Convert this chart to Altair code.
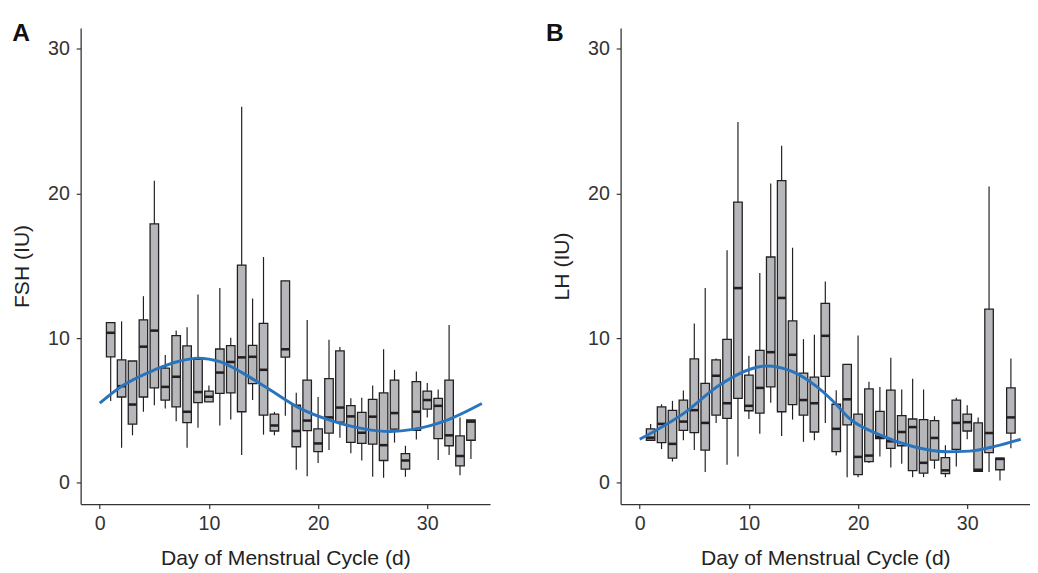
import altair as alt
import pandas as pd

days = list(range(1, 35))

# Panel A: FSH
fsh_lo = [5.66, 2.42, 3.28, 4.91, 5.36, 5.14, 4.26, 2.42, 3.8, 5.59, 3.96, 4.37, 1.92, 5.72, 3.33, 3.28, 4.64, 0.9, 0.45, 1.36, 2.26, 3.12, 2.04, 1.54, 0.41, 0.34, 2.78, 0.41, 2.99, 4.52, 1.58, 1.92, 0.52, 1.65]
fsh_q1 = [8.71, 5.93, 4.05, 5.93, 6.56, 5.72, 5.25, 4.16, 5.54, 5.59, 6.18, 6.22, 4.91, 6.86, 4.68, 3.58, 8.69, 2.49, 3.6, 2.15, 3.44, 4.19, 2.8, 2.72, 2.67, 1.54, 3.71, 0.95, 3.62, 5.09, 3.05, 2.56, 1.17, 2.94]
fsh_med = [10.37, 6.68, 5.41, 9.41, 10.52, 6.63, 7.33, 4.91, 6.27, 5.95, 7.62, 8.35, 8.67, 8.71, 7.81, 3.96, 9.23, 3.58, 4.3, 2.72, 4.52, 5.2, 4.59, 3.46, 4.57, 2.6, 4.82, 1.54, 4.91, 5.72, 5.32, 3.28, 1.85, 4.23]
fsh_q3 = [11.07, 8.49, 8.42, 11.27, 17.9, 7.92, 10.18, 9.46, 8.53, 6.34, 9.25, 9.48, 15.05, 9.5, 11.02, 4.75, 13.96, 5.36, 7.1, 3.73, 7.2, 9.12, 5.34, 4.87, 5.77, 6.22, 7.1, 2.01, 6.99, 6.34, 5.84, 7.1, 3.24, 4.34]
fsh_hi = [11.07, 11.16, 8.42, 12.9, 20.89, 8.83, 10.52, 10.75, 13.01, 6.72, 13.46, 10.03, 26.0, 12.74, 15.61, 4.9, 13.96, 6.22, 11.25, 5.93, 9.89, 9.39, 5.84, 5.88, 6.72, 9.23, 7.81, 2.56, 7.69, 6.9, 6.45, 10.91, 4.52, 4.34]

fsh_curve_day = [0, 2, 5, 7.1, 9, 11, 13.1, 15.2, 18.2, 21.2, 24.2, 26.6, 28.7, 31.7, 35]
fsh_curve_val = [5.5, 6.67, 7.8, 8.37, 8.62, 8.37, 7.58, 6.62, 5.2, 4.3, 3.73, 3.55, 3.69, 4.3, 5.48]

# Panel B: LH
lh_lo = [2.94, 2.33, 1.47, 2.94, 2.26, 0.75, 4.14, 1.24, 1.81, 4.41, 3.39, 5.54, 3.24, 4.37, 2.83, 2.94, 4.14, 1.88, 0.39, 0.39, 1.36, 1.81, 1.06, 1.31, 0.39, 0.39, 0.97, 0.39, 1.13, 3.01, 0.75, 0.75, 0.16, 2.38]
lh_q1 = [2.94, 2.78, 1.7, 3.62, 3.46, 2.26, 4.68, 4.46, 5.84, 4.98, 4.82, 6.63, 4.91, 5.41, 4.68, 3.51, 7.35, 2.15, 4.0, 0.57, 1.47, 3.05, 2.38, 2.56, 0.84, 0.66, 1.56, 0.63, 2.31, 3.58, 0.79, 2.08, 0.9, 3.44]
lh_med = [3.12, 4.07, 2.69, 4.23, 5.02, 4.14, 7.4, 5.5, 13.46, 5.32, 6.56, 9.03, 12.78, 8.85, 5.72, 5.5, 10.16, 3.73, 5.77, 1.79, 1.88, 3.17, 2.87, 3.51, 3.85, 1.38, 3.1, 0.86, 4.14, 4.19, 0.9, 3.44, 1.65, 4.52]
lh_q3 = [3.73, 5.25, 5.0, 5.72, 8.57, 6.88, 8.49, 9.91, 19.4, 7.45, 9.16, 15.61, 20.89, 11.2, 7.58, 7.31, 12.4, 5.43, 8.19, 4.75, 6.49, 4.93, 6.4, 4.64, 4.41, 4.37, 4.3, 1.74, 5.72, 4.75, 4.14, 12.0, 1.7, 6.56]
lh_hi = [4.07, 5.43, 5.66, 6.38, 11.02, 13.46, 8.6, 16.07, 24.94, 8.78, 14.51, 20.7, 23.3, 16.25, 9.93, 10.23, 13.92, 6.4, 8.19, 10.18, 6.99, 6.63, 8.64, 6.45, 7.2, 6.45, 4.6, 2.6, 5.88, 5.36, 4.52, 20.48, 1.7, 8.6]

lh_curve_day = [0, 4.16, 7.15, 10.1, 11.6, 14.0, 16.1, 17.9, 19.1, 22.1, 25.1, 28.1, 30.2, 32.6, 34.9]
lh_curve_val = [3.01, 4.87, 6.67, 7.85, 8.08, 7.69, 6.72, 5.5, 4.52, 3.28, 2.49, 2.15, 2.19, 2.53, 3.01]

x_ticks = [0, 10, 20, 30]
y_ticks = [0, 10, 20, 30]

DARK = "#231f20"
BOX_FILL = "#b6b7ba"
BLUE = "#2a74bd"
HALF = 0.39
FONT = "Liberation Sans"

xscale = alt.Scale(domain=[-1.75, 35.75], nice=False, zero=False)
yscale = alt.Scale(domain=[-1.47, 31.45], nice=False, zero=False)


def panel(lo, q1, med, q3, hi, cday, cval, ytitle, letter, lab_dx):
    df = pd.DataFrame({"day": days, "lo": lo, "q1": q1, "med": med, "q3": q3, "hi": hi})
    cdf = pd.DataFrame({"day": cday, "val": cval})
    base = alt.Chart(df).transform_calculate(
        xl=f"datum.day - {HALF}", xr=f"datum.day + {HALF}"
    )
    xax = alt.Axis(values=x_ticks, title="Day of Menstrual Cycle (d)", grid=False)
    yax = alt.Axis(values=y_ticks, title=ytitle, grid=False)
    whisk = base.mark_rule(color=DARK, strokeWidth=1.2).encode(
        x=alt.X("day:Q", scale=xscale, axis=xax),
        y=alt.Y("lo:Q", scale=yscale, axis=yax),
        y2="hi:Q",
    )
    box = base.mark_rect(fill=BOX_FILL, stroke=DARK, strokeWidth=1.3).encode(
        x="xl:Q", x2="xr:Q", y="q1:Q", y2="q3:Q"
    )
    medl = base.mark_rule(color=DARK, strokeWidth=2.6).encode(
        x="xl:Q", x2="xr:Q", y="med:Q"
    )
    curve = alt.Chart(cdf).mark_line(color=BLUE, strokeWidth=3, interpolate="monotone").encode(
        x="day:Q", y="val:Q"
    )
    lab = alt.Chart(pd.DataFrame({"t": [letter]})).mark_text(
        font=FONT, fontSize=25, fontWeight="bold", color="#111", align="left", baseline="alphabetic"
    ).encode(text="t:N", x=alt.value(lab_dx), y=alt.value(13.3))
    return alt.layer(whisk, box, medl, curve, lab).properties(width=417, height=485)


pa = panel(fsh_lo, fsh_q1, fsh_med, fsh_q3, fsh_hi, fsh_curve_day, fsh_curve_val, "FSH (IU)", "A", -69.7)
pb = panel(lh_lo, lh_q1, lh_med, lh_q3, lh_hi, lh_curve_day, lh_curve_val, "LH (IU)", "B", -76)

chart = alt.hconcat(pa, pb, spacing=57).properties(
    padding={"top": 8, "left": 4, "right": 0, "bottom": 0}
).configure_view(stroke=None).configure_axis(
    labelFont=FONT, titleFont=FONT,
    labelFontSize=20, titleFontSize=21.5, labelColor="#333333", titleColor="#222222",
    titleFontWeight="normal", domainColor="#333333", tickColor="#333333",
    domainWidth=1.3, tickWidth=1.2, tickSize=4.5, labelPadding=6,
).configure_axisX(titlePadding=15, labelPadding=5).configure_axisY(titlePadding=14, labelPadding=7)

chart.save("out.html", embed_options={"renderer": "svg", "actions": False})
